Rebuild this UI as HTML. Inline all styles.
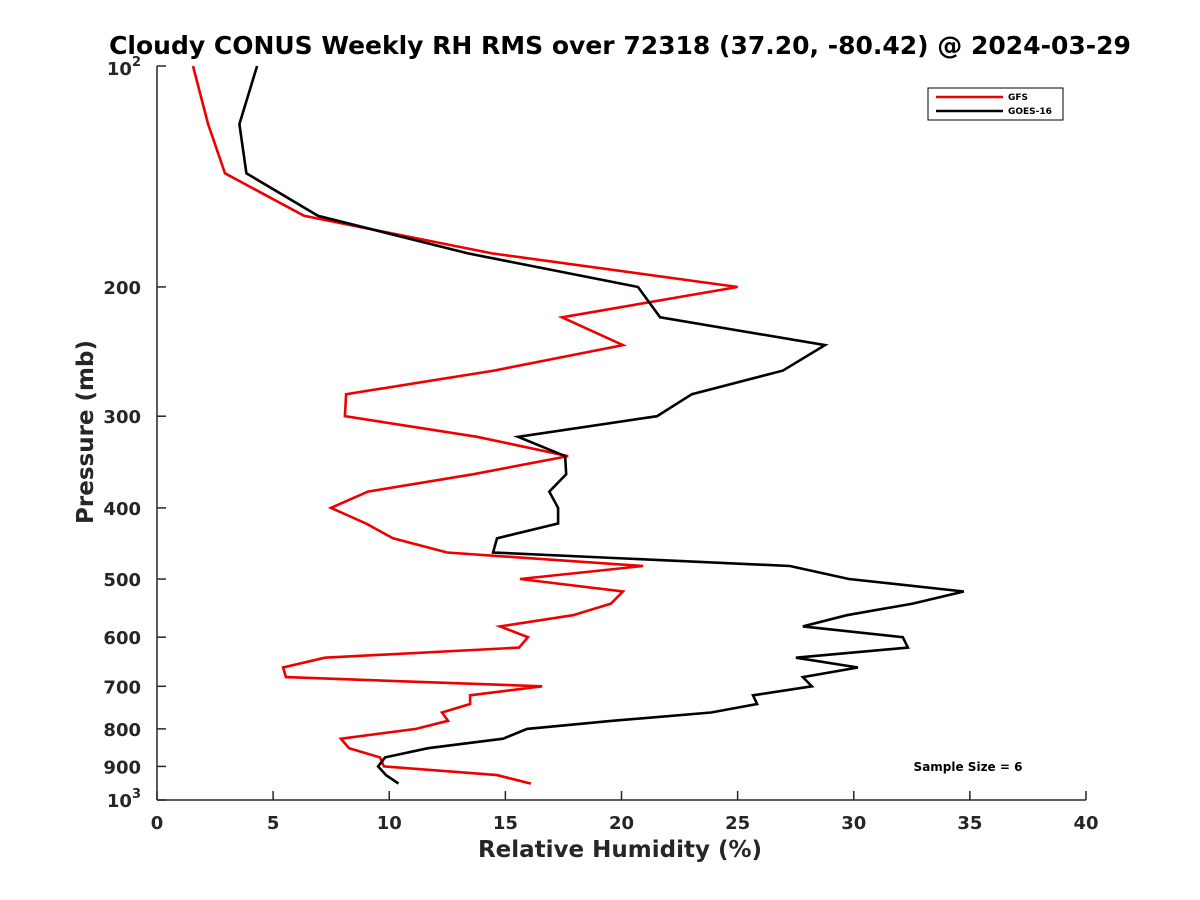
<!DOCTYPE html>
<html><head><meta charset="utf-8"><style>
body{margin:0;background:#fff}
svg{display:block;font-family:"DejaVu Sans","Liberation Sans",sans-serif}
</style></head><body>
<svg id="chart" width="1200" height="900" viewBox="0 0 1200 900">
<rect width="1200" height="900" fill="#fff"/>
<text x="620" y="54" text-anchor="middle" font-size="25" font-weight="bold">Cloudy CONUS Weekly RH RMS over 72318 (37.20, -80.42) @ 2024-03-29</text>
<g id="axes"></g>
<g id="series"></g>
<text x="620" y="857" text-anchor="middle" font-size="23" font-weight="bold" fill="#262626">Relative Humidity (%)</text>
<text transform="translate(93,432) rotate(-90)" text-anchor="middle" font-size="23" font-weight="bold" fill="#262626">Pressure (mb)</text>
<g>
<rect x="928" y="88" width="135" height="32" fill="#fff" stroke="#000" stroke-width="1"/>
<line x1="936" y1="97" x2="1003" y2="97" stroke="#e00" stroke-width="2.5"/>
<text x="1008" y="100" font-size="9" font-weight="bold">GFS</text>
<line x1="936" y1="111" x2="1003" y2="111" stroke="#000" stroke-width="2.5"/>
<text x="1008" y="114" font-size="9" font-weight="bold">GOES-16</text>
</g>
<text x="968" y="771" text-anchor="middle" font-size="12" font-weight="bold">Sample Size = 6</text>
</svg>
<script>
const pressures=[100,120,140,160,180,200,220,240,260,280,300,320,340,360,380,400,420,440,460,480,500,520,540,560,580,600,620,640,660,680,700,720,740,760,780,800,825,850,875,900,925,950];
const gfsValues=[1.55,2.2,2.93,6.33,14.43,25.0,17.44,20.06,14.51,8.14,8.09,13.78,17.7,13.6,9.08,7.49,9.0,10.16,12.49,20.93,15.63,20.06,19.55,17.91,14.77,15.97,15.59,7.23,5.43,5.55,16.58,13.48,13.48,12.27,12.53,11.15,7.92,8.27,9.6,9.77,14.64,16.1];
const goesValues=[4.31,3.55,3.85,6.93,13.39,20.71,21.66,28.76,26.95,23.03,21.53,15.55,17.57,17.62,16.89,17.27,17.27,14.64,14.47,27.25,29.79,34.74,32.54,29.7,27.81,32.11,32.33,27.51,30.18,27.81,28.2,25.66,25.84,23.86,19.6,15.93,14.9,11.67,9.82,9.52,9.86,10.4];
const xTicks=[0,5,10,15,20,25,30,35,40];
const yTicks=[100,200,300,400,500,600,700,800,900,1000];
const NS='http://www.w3.org/2000/svg';
const X0=157,X1=1086,YT=66,YB=800;
function xs(v){return X0+(v/40)*(X1-X0);}
function ys(p){return YT+(Math.log10(p)-2)*(YB-YT);}
function mk(tag,attrs,parent){const e=document.createElementNS(NS,tag);for(const k in attrs)e.setAttribute(k,attrs[k]);parent.appendChild(e);return e;}
const axes=document.getElementById('axes');
const xl=mk('line',{x1:X0,y1:YB,x2:X1,y2:YB,stroke:'#262626','stroke-width':1.5},axes);


const yl=mk('line',{x1:X0,y1:YT,x2:X0,y2:YB,stroke:'#262626','stroke-width':1.5},axes);


xTicks.forEach(v=>{
  const x=xs(v);
  mk('line',{x1:x,y1:YB,x2:x,y2:YB-9,stroke:'#262626','stroke-width':1.5},axes);
  const t=mk('text',{x:x,y:YB+29,'text-anchor':'middle','font-size':18,'font-weight':'bold',fill:'#262626'},axes);
  t.textContent=v;
  
  
});
yTicks.forEach(p=>{
  const y=ys(p);
  mk('line',{x1:X0,y1:y,x2:X0+9,y2:y,stroke:'#262626','stroke-width':1.5},axes);
  const t=mk('text',{x:X0-16,y:y+7,'text-anchor':'end','font-size':18,'font-weight':'bold',fill:'#262626'},axes);
  if(p===100||p===1000){
    t.textContent='10';
    const s=mk('tspan',{dy:-9,'font-size':13},t);s.textContent=(p===100?'2':'3');
    t.setAttribute('x',X0-16);
    t.setAttribute('y',y+(p===100?9:7));
  } else t.textContent=p;
  
  
});
const sg=document.getElementById('series');
function line(vals,color,name){
  const pts=vals.map((v,i)=>xs(v).toFixed(1)+','+ys(pressures[i]).toFixed(1)).join(' ');
  const pl=mk('polyline',{points:pts,fill:'none',stroke:color,'stroke-width':2.6,'stroke-linejoin':'miter'},sg);
  
  
}
line(gfsValues,'#e00','gfs-line');
line(goesValues,'#000','goes16-line');
</script>
</body></html>
